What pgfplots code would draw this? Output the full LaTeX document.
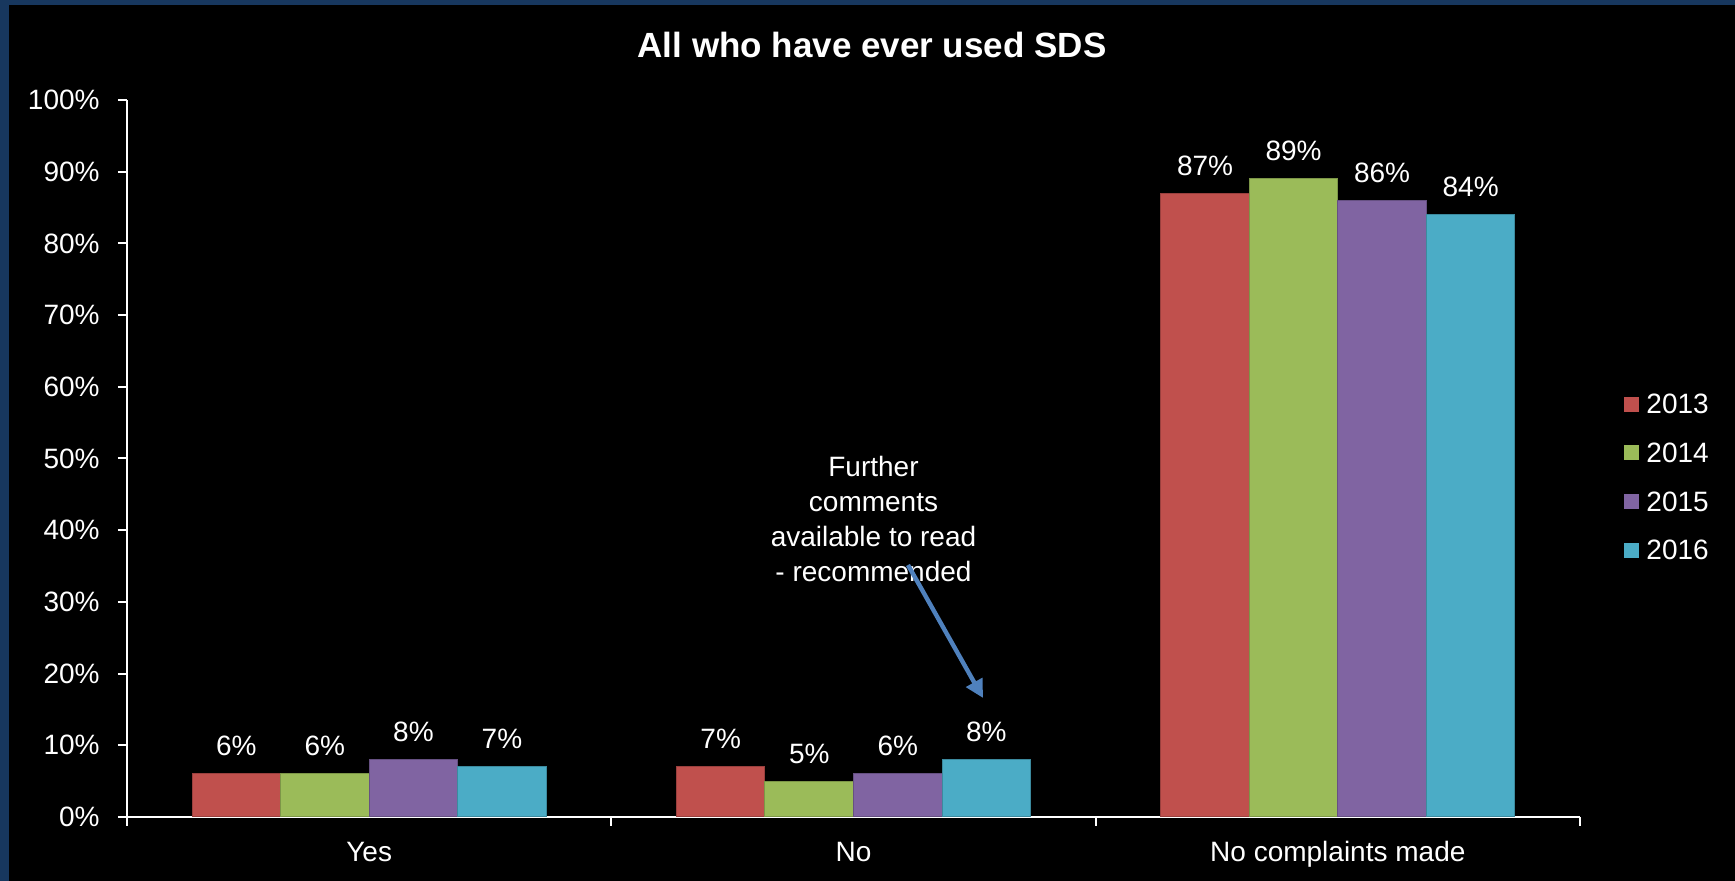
\documentclass[border=0pt]{standalone}
\usepackage{pgfplots}
\pgfplotsset{compat=1.18}
\usepackage{fontspec}
\setmainfont{Liberation Sans}
\usetikzlibrary{arrows.meta}
\definecolor{cA}{HTML}{C0504D}
\definecolor{cB}{HTML}{9BBB59}
\definecolor{cC}{HTML}{8064A2}
\definecolor{cD}{HTML}{4BACC6}
\definecolor{frameblue}{HTML}{17375E}
\definecolor{arrowblue}{HTML}{4F81BD}
\newcommand{\fs}{\fontsize{14pt}{17pt}\selectfont}
\pgfplotsset{sqleg/.style={legend image code/.code={\fill[##1,draw=none] (0pt,-4pt) rectangle (7.5pt,3.5pt);}}}
\begin{document}
\begin{tikzpicture}[x=1pt,y=1pt]
\fill[frameblue] (0,0) rectangle (867.5,440.5);
\fill[black] (4.5,0) rectangle (867.5,438);
\useasboundingbox (0,0) rectangle (867.5,440.5);
\begin{axis}[
  at={(63.5pt,32pt)}, anchor=south west,
  scale only axis, width=726.5pt, height=358.5pt,
  ybar=0pt, bar width=0.1828,
  xmin=-0.5, xmax=2.5, ymin=0, ymax=100,
  axis x line*=bottom, axis y line*=left,
  axis line style={white, line width=1pt},
  xtick={-0.5,0.5,1.5,2.5}, x tick label as interval,
  xticklabels={Yes,No,No complaints made},
  ytick={0,10,...,100},
  /pgf/number format/assume math mode=true,
  yticklabel={\pgfmathprintnumber{\tick}\%},
  tick align=outside, major tick length=4.5pt,
  tick style={white, line width=1pt},
  every tick label/.append style={font=\fs, text=white},
  yticklabel style={anchor=east, inner sep=0pt, xshift=-9pt},
  xticklabel style={anchor=base, inner sep=0pt, yshift=-18pt},
  nodes near coords={\pgfmathprintnumber{\pgfplotspointmeta}\%},
  every node near coord/.append style={font=\fs, text=white, anchor=base, inner sep=0pt, yshift=9pt},
  legend style={at={(1.0303,0.4745)}, anchor=west, draw=none, fill=none, text=white, font=\fs, inner sep=0pt, row sep=14.3pt, column sep=3.5pt, nodes={inner sep=0pt, text height=10pt, text depth=0pt}},
  legend cell align=left,
]
\addplot[fill=cA, draw=cA!80!black, line width=0.5pt, sqleg] coordinates {(0,6) (1,7) (2,87)};
\addplot[fill=cB, draw=cB!80!black, line width=0.5pt, sqleg] coordinates {(0,6) (1,5) (2,89)};
\addplot[fill=cC, draw=cC!80!black, line width=0.5pt, sqleg] coordinates {(0,8) (1,6) (2,86)};
\addplot[fill=cD, draw=cD!80!black, line width=0.5pt, sqleg] coordinates {(0,7) (1,8) (2,84)};
\legend{2013,2014,2015,2016}
\end{axis}
\node[anchor=base, text=white, font=\fontsize{17.5pt}{21pt}\selectfont\bfseries] at (436,411.5) {All who have ever used SDS};
\node[anchor=base, text=white, font=\fs, inner sep=0pt] at (436.75,202) {Further};
\node[anchor=base, text=white, font=\fs, inner sep=0pt] at (436.75,184.5) {comments};
\node[anchor=base, text=white, font=\fs, inner sep=0pt] at (436.75,167) {available to read};
\node[anchor=base, text=white, font=\fs, inner sep=0pt] at (436.75,149.5) {- recommended};
\draw[arrowblue, line width=2.2pt, -{Triangle[length=9pt,width=9pt]}] (454,158) -- (491.5,91.5);
\end{tikzpicture}
\end{document}
